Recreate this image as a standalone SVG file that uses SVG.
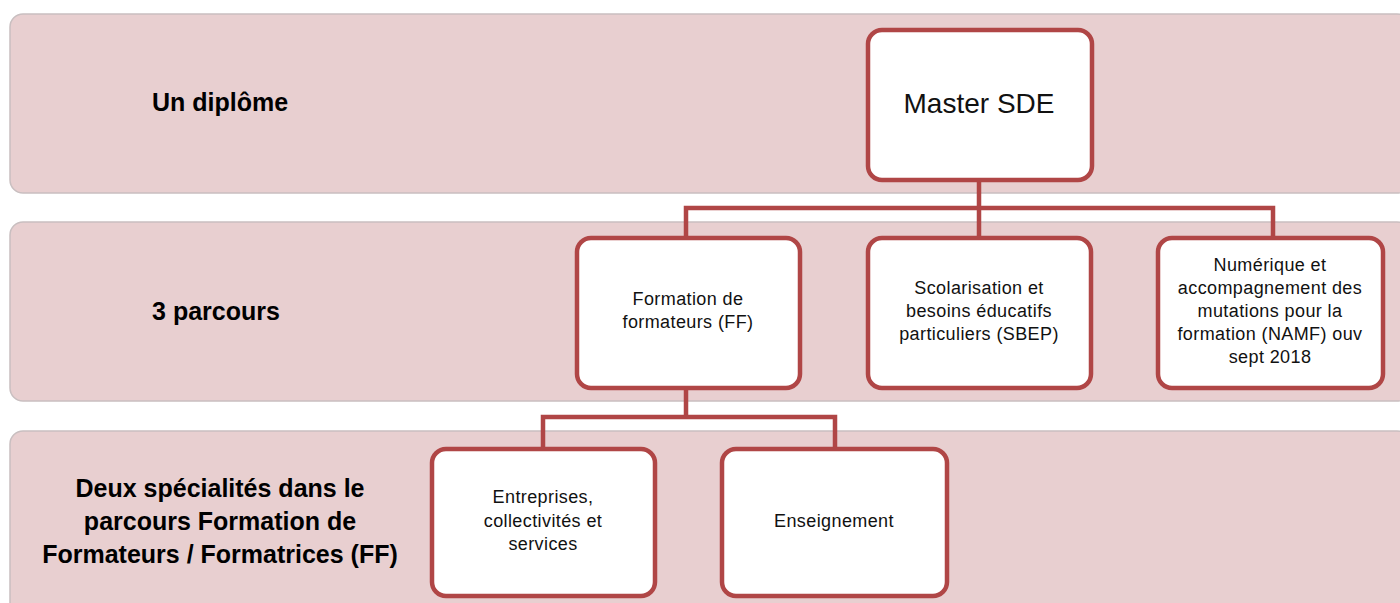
<svg xmlns="http://www.w3.org/2000/svg" width="1400" height="603" viewBox="0 0 1400 603">
<style>
.band{fill:#e8cfd0;stroke:#c9bfc0;stroke-width:1.5}
.box{fill:#ffffff;stroke:#b04646;stroke-width:4.5}
.conn{fill:none;stroke:#b04646;stroke-width:4.5}
.lbl{font-family:"Liberation Sans",Arial,sans-serif;font-size:25px;font-weight:bold;fill:#000;text-anchor:middle}
.big{font-family:"Liberation Sans",Arial,sans-serif;font-size:28px;fill:#111;text-anchor:middle}
.txt{font-family:"Liberation Sans",Arial,sans-serif;font-size:18px;letter-spacing:0.4px;fill:#111;text-anchor:middle}
</style>
<rect width="1400" height="603" fill="#ffffff"/>
<g id="bands">
<rect class="band" x="10" y="14" width="1400" height="179" rx="13"/>
<rect class="band" x="10" y="222" width="1400" height="179" rx="13"/>
<rect class="band" x="10" y="431" width="1400" height="190" rx="13"/>
</g>
<g id="labels">
<text class="lbl" x="220" y="111">Un diplôme</text>
<text class="lbl" x="216" y="320">3 parcours</text>
<text class="lbl" x="220" y="497">Deux spécialités dans le</text>
<text class="lbl" x="220" y="530">parcours Formation de</text>
<text class="lbl" x="220" y="563">Formateurs / Formatrices (FF)</text>
</g>
<g id="connectors">
<path class="conn" d="M979 180 V208 M686 237 V208 H1273 V237 M979 208 V237"/>
<path class="conn" d="M686 388 V417 M543 448 V417 H835 V448"/>
</g>
<g id="master">
<rect class="box" x="868" y="30" width="224" height="150" rx="14"/>
<text class="big" x="979" y="113">Master SDE</text>
</g>
<g id="ff">
<rect class="box" x="577" y="238" width="223" height="150" rx="14"/>
<text class="txt" x="688" y="305">Formation de</text>
<text class="txt" x="688" y="328">formateurs (FF)</text>
</g>
<g id="sbep">
<rect class="box" x="868" y="238" width="223" height="150" rx="14"/>
<text class="txt" x="979" y="294">Scolarisation et</text>
<text class="txt" x="979" y="317">besoins éducatifs</text>
<text class="txt" x="979" y="340">particuliers (SBEP)</text>
</g>
<g id="namf">
<rect class="box" x="1158" y="238" width="225" height="150" rx="14"/>
<text class="txt" x="1270" y="271">Numérique et</text>
<text class="txt" x="1270" y="294">accompagnement des</text>
<text class="txt" x="1270" y="317">mutations pour la</text>
<text class="txt" x="1270" y="340">formation (NAMF) ouv</text>
<text class="txt" x="1270" y="363">sept 2018</text>
</g>
<g id="entreprises">
<rect class="box" x="432" y="449" width="223" height="147" rx="14"/>
<text class="txt" x="543" y="503">Entreprises,</text>
<text class="txt" x="543" y="527">collectivités et</text>
<text class="txt" x="543" y="550">services</text>
</g>
<g id="enseignement">
<rect class="box" x="722" y="449" width="225" height="147" rx="14"/>
<text class="txt" x="834" y="527">Enseignement</text>
</g>
</svg>
